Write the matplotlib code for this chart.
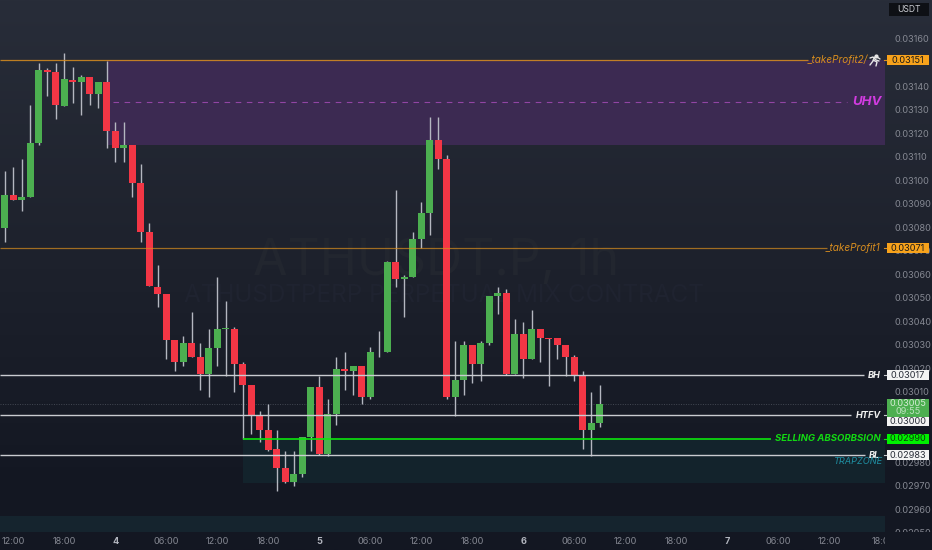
import numpy as np
import matplotlib
matplotlib.use("Agg")
import matplotlib.pyplot as plt
from matplotlib.colors import LinearSegmentedColormap
from matplotlib.patches import Rectangle
from matplotlib.transforms import blended_transform_factory

plt.rcParams['font.family'] = ['Inter', 'DejaVu Sans']

# prices in 1e-5 USDT, one candle per hour
opens = [3079.8, 3093.7, 3091.7, 3092.7, 3115.8, 3146.8, 3146.0, 3131.6, 3142.7, 3141.7, 3143.8, 3136.7,
         3141.8, 3120.8, 3113.8, 3114.8, 3098.8, 3077.8, 3054.7, 3051.7, 3031.9, 3022.8, 3030.7, 3024.8,
         3017.7, 3028.7, 3036.8, 3036.8, 3021.8, 3012.8, 2999.8, 2993.7, 2985.8, 2977.7, 2971.6, 2974.9,
         2990.8, 3011.9, 2983.5, 3000.7, 3019.8, 3018.8, 3020.8, 3007.7, 3026.8, 3026.8, 3065.1, 3057.8,
         3058.7, 3074.8, 3085.9, 3116.9, 3108.8, 3007.7, 3014.9, 3029.9, 3021.8, 3030.9, 3050.9, 3051.9,
         3017.6, 3034.7, 3023.8, 3036.8, 3032.9, 3032.9, 3029.8, 3024.7, 3016.8, 2993.7, 2996.8]
closes = [3093.7, 3091.7, 3092.8, 3115.8, 3146.7, 3145.8, 3131.8, 3142.9, 3141.7, 3143.8, 3136.7, 3141.8,
          3120.8, 3113.7, 3114.8, 3098.8, 3077.8, 3054.8, 3051.7, 3031.9, 3022.8, 3030.7, 3024.8, 3017.7,
          3028.7, 3036.8, 3037.1, 3021.8, 3012.8, 2999.8, 2993.7, 2985.4, 2977.7, 2971.6, 2974.9, 2990.9,
          3011.9, 2983.5, 3000.7, 3019.8, 3018.8, 3020.8, 3007.7, 3026.8, 3027.1, 3065.1, 3057.8, 3058.9,
          3074.8, 3085.9, 3116.9, 3108.8, 3007.7, 3014.9, 3029.9, 3021.8, 3030.9, 3050.9, 3051.9, 3017.6,
          3034.7, 3023.8, 3036.8, 3032.7, 3032.6, 3029.8, 3024.7, 3016.8, 2993.7, 2996.8, 3004.8]
highs = [3103.9, 3105.7, 3108.8, 3131.9, 3149.7, 3147.8, 3149.7, 3153.9, 3148.0, 3144.7, 3143.8, 3141.8,
         3150.8, 3124.8, 3124.8, 3114.8, 3106.8, 3081.9, 3063.9, 3051.7, 3031.9, 3033.8, 3043.9, 3030.7,
         3036.7, 3058.8, 3048.7, 3037.7, 3022.8, 3012.8, 3002.0, 3004.8, 2993.7, 2984.8, 2984.8, 2990.9,
         3011.9, 3016.8, 3006.8, 3024.8, 3026.9, 3020.8, 3020.8, 3028.9, 3035.8, 3065.7, 3095.8, 3059.8,
         3077.9, 3090.8, 3126.7, 3126.7, 3110.7, 3031.7, 3031.7, 3029.9, 3031.7, 3050.9, 3054.7, 3053.8,
         3040.8, 3039.7, 3044.8, 3036.8, 3032.9, 3032.9, 3029.8, 3025.8, 3018.8, 3009.8, 3012.9]
lows = [3073.8, 3091.7, 3086.9, 3092.7, 3114.9, 3135.9, 3126.0, 3131.6, 3132.7, 3127.8, 3131.8, 3130.8,
        3113.8, 3107.8, 3107.8, 3092.7, 3073.8, 3054.8, 3045.9, 3023.9, 3019.0, 3021.0, 3024.8, 3010.8,
        3007.9, 3020.8, 3016.8, 3009.8, 2989.9, 2991.9, 2988.8, 2984.9, 2967.8, 2971.1, 2969.9, 2973.9,
        2984.8, 2983.1, 2982.8, 2995.9, 3010.8, 3008.6, 3004.8, 3007.1, 3024.9, 3026.8, 3054.7, 3041.9,
        3058.7, 3071.0, 3076.7, 3104.7, 3007.1, 2999.8, 3008.8, 3013.9, 3014.7, 3029.9, 3042.9, 3017.1,
        3017.6, 3016.0, 3023.8, 3022.8, 3012.6, 3023.8, 3016.8, 3014.7, 2985.8, 2982.8, 2994.9]

time_ticks = [1, 7, 13, 19, 25, 31, 37, 43, 49, 55, 61, 67, 73, 79, 85, 91, 97, 103]
time_labels = ['12:00', '18:00', '4', '06:00', '12:00', '18:00', '5', '06:00', '12:00', '18:00',
               '6', '06:00', '12:00', '18:00', '7', '06:00', '12:00', '18:0']
# 3150, 3000 and 2990 sit fully behind the price boxes
price_ticks = [3160, 3140, 3130, 3120, 3110, 3100, 3090, 3080, 3070, 3060, 3050, 3040, 3030, 3020, 3010,
               2980, 2970, 2960, 2950]

uhv_top, uhv_mid, uhv_bottom = 3151, 3133, 3115
trap_top, trap_bottom = 2990, 2971
low_band_top, low_band_bottom = 2957, 2950.5

W, H = 932, 550
PANE_W = 885
BULL, BEAR = '#4caf50', '#f23645'
ORANGE = '#d98e1f'
WHITE = '#c9cbd0'
LIME = '#0ce40c'
AXIS_GREY = '#858892'


def hour_x(px):
    # picture pixel -> candle number
    return (px - 4.7) / 8.5


def price_y(py):
    # picture pixel -> price (1e-5)
    return 3160 - (py - 39) * 0.4252


fig = plt.figure(figsize=(W / 100, H / 100), dpi=100)

# background gradient
bg = fig.add_axes([0, 0, 1, 1], zorder=-1)
bg.axis('off')
cmap = LinearSegmentedColormap.from_list('pane', [(0, '#282d39'), (0.45, '#1e222d'), (0.85, '#141823'), (1, '#131722')])
bg.imshow(np.linspace(0, 1, 256).reshape(-1, 1), aspect='auto', cmap=cmap)

ax = fig.add_axes([0, 0, PANE_W / W, 1])
ax.patch.set_alpha(0)
ax.set_xlim(hour_x(0), hour_x(PANE_W))
ax.set_ylim(price_y(H), price_y(0))
for s in ax.spines.values():
    s.set_visible(False)

# zones
ax.add_patch(Rectangle((12, uhv_bottom), hour_x(PANE_W) - 12, uhv_top - uhv_bottom, fc='#3c2a52', ec='none', zorder=0.5))
ax.add_patch(Rectangle((28, trap_bottom), hour_x(PANE_W) - 28, trap_top - trap_bottom, fc='#13232c', ec='none', zorder=0.5))
ax.axhspan(low_band_bottom, low_band_top, fc='#15242e', ec='none', zorder=0.4)

# watermark
ax.text(hour_x(436), price_y(262), 'ATHUSDT.P, 1h', color='#22262f', fontsize=36, ha='center', va='center', zorder=0.6)
ax.text(hour_x(444), price_y(295), 'ATHUSDTPERP PERPETUAL MIX CONTRACT', color='#1f2330', fontsize=17.5,
        ha='center', va='center', zorder=0.6)

# candles
xs = np.arange(len(opens))
o = np.array(opens)
c = np.array(closes)
colors = [BULL if b >= a else BEAR for a, b in zip(o, c)]
ax.vlines(xs, lows, highs, color='#b4b7c0', lw=1.0, zorder=1)
ax.bar(xs, np.abs(c - o), bottom=np.minimum(o, c), width=0.82, color=colors, zorder=1.5)

# levels
ax.hlines(3151, hour_x(0), hour_x(808), color=ORANGE, lw=0.9, alpha=0.85, zorder=2)
ax.hlines(3071, hour_x(0), hour_x(827), color=ORANGE, lw=0.9, alpha=0.7, zorder=2)
ax.hlines(3017, hour_x(0), hour_x(864), color=WHITE, lw=1.0, zorder=2)
ax.hlines(3000, hour_x(0), hour_x(851), color=WHITE, lw=1.0, zorder=2)
ax.hlines(2983, hour_x(0), hour_x(865), color=WHITE, lw=1.0, zorder=2)
ax.hlines(2990, 28, hour_x(771), color=LIME, lw=1.2, zorder=2)
ax.hlines(3005, hour_x(0), hour_x(PANE_W), color='#434853', lw=0.7, linestyles=(0, (1, 1.5)), zorder=0.8)
ax.hlines(uhv_mid, hour_x(113), hour_x(847), color='#b04fc0', lw=0.8, alpha=0.75, linestyles=(0, (5, 5)), zorder=0.8)

# level labels
ax.text(hour_x(868), 3151, '_takeProfit2/', color=ORANGE, fontsize=7.2, style='italic', ha='right', va='center')
ax.text(hour_x(880), 3071, '_takeProfit1', color=ORANGE, fontsize=7.2, style='italic', ha='right', va='center')
ax.text(hour_x(882), uhv_mid, 'UHV', color='#d13be0', fontsize=9.5, weight='bold', style='italic', ha='right', va='center')
ax.text(hour_x(881), 3017, 'BH', color='#f0f0f0', fontsize=6.6, weight='bold', style='italic', ha='right', va='center')
ax.text(hour_x(881), 3000, 'HTFV', color='#f0f0f0', fontsize=6.6, weight='bold', style='italic', ha='right', va='center')
ax.text(hour_x(881), 2990, 'SELLING ABSORBSION', color='#12d812', fontsize=6.9, weight='bold', style='italic', ha='right', va='center')
ax.text(hour_x(880), 2983, 'BL', color='#f0f0f0', fontsize=6.6, weight='bold', style='italic', ha='right', va='center')
ax.text(hour_x(883), 2980.3, 'TRAPZONE', color='#1f8fa3', fontsize=6.6, style='italic', ha='right', va='center')

# no installed font has the runner emoji, so it is a small drawn figure
runner_x = [[870, 873, 876, 879], [875, 873, 870], [873, 877, 876], [873.5, 877, 880]]
runner_y = [[58, 57, 60, 61], [57, 61, 65], [60, 62, 66], [58, 57, 59]]
for rx, ry in zip(runner_x, runner_y):
    ax.plot([hour_x(p) for p in rx], [price_y(p) for p in ry], color='#e6e6e6', lw=1.0, solid_capstyle='round', zorder=3)
ax.plot([hour_x(875.5)], [price_y(55.5)], 'o', ms=2, color='#e6e6e6', zorder=3)

# axes
ax.yaxis.tick_right()
ax.set_yticks(price_ticks)
ax.set_yticklabels(['%.5f' % (p / 1e5) for p in price_ticks], fontsize=6.6, color=AXIS_GREY)
ax.tick_params(axis='y', length=0, pad=7)
ax.set_xticks(time_ticks)
ax.set_xticklabels(time_labels, fontsize=6.6, color=AXIS_GREY)
ax.tick_params(axis='x', length=0, pad=-9.7)
for lab, txt in zip(ax.get_xticklabels(), time_labels):
    if len(txt) == 1:
        lab.set_color('#b2b5be')
        lab.set_fontweight('bold')

# right scale boxes
tr = blended_transform_factory(ax.transAxes, ax.transData)
box_h = 4.1
left = 887 / PANE_W
wide = 42 / PANE_W


def price_box(y, txt, face, color, h=box_h):
    ax.add_patch(Rectangle((left, y - h / 2), wide, h, transform=tr, fc=face, ec='none', clip_on=False, zorder=4))
    ax.text(left + wide / 2, y, txt, transform=tr, color=color, fontsize=6.6, ha='center', va='center', zorder=5, clip_on=False)


def stub(y, color):
    ax.add_line(plt.Line2D([884 / PANE_W, 887 / PANE_W], [y, y], transform=tr, color=color, lw=0.8, clip_on=False, zorder=3))


# covers the lower half of the last scale label, as the time strip does
ax.add_patch(Rectangle((1, price_y(H)), 47 / PANE_W, price_y(532) - price_y(H), transform=tr, fc='#131722', ec='none',
                       clip_on=False, zorder=3))

price_box(3151, '0.03151', '#f7a21b', '#1a1a1a')
price_box(3071, '0.03071', '#f7a21b', '#1a1a1a')
price_box(3017, '0.03017', '#f4f4f4', '#2a2e39')
ax.add_patch(Rectangle((left, price_y(417)), wide, price_y(399) - price_y(417), transform=tr, fc='#4caf50', ec='none', clip_on=False, zorder=4))
ax.text(left + wide / 2, price_y(404), '0.03005', transform=tr, color='#d5ecd6', fontsize=6.6, ha='center', va='center', zorder=5)
ax.text(left + wide / 2, price_y(412), '09:55', transform=tr, color='#bfe2c1', fontsize=6.6, ha='center', va='center', zorder=5)
price_box(price_y(421.5), '0.03000', '#f4f4f4', '#2a2e39')
price_box(2990, '0.02990', '#00f000', '#0c3d0c')
price_box(2983, '0.02983', '#f4f4f4', '#2a2e39')
stub(3151, ORANGE)
stub(3071, ORANGE)
stub(3017, WHITE)
stub(3000, WHITE)
stub(2990, LIME)
stub(2983, WHITE)

# USDT button
ax.add_patch(Rectangle((889 / PANE_W, price_y(16)), 40 / PANE_W, price_y(3) - price_y(16), transform=tr, fc='#0e1015', ec='none',
                       clip_on=False, zorder=4))
ax.text(909 / PANE_W, price_y(9.5), 'USDT', transform=tr, color='#c8cad0', fontsize=6.2, ha='center', va='center', zorder=5)

fig.savefig('out.png', dpi=100)
